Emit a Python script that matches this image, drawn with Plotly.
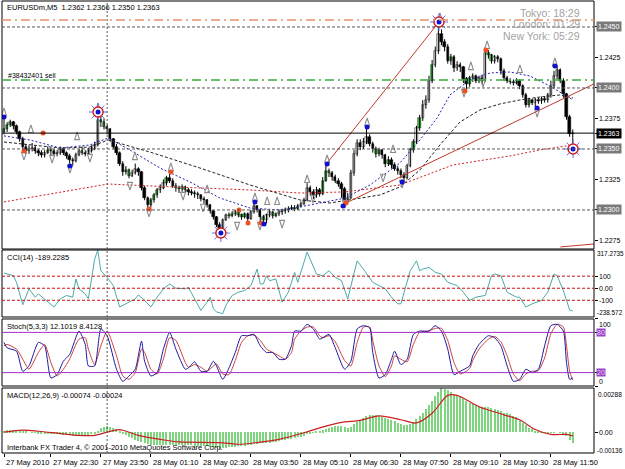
import plotly.graph_objects as go

# ---------------- data (prices in pips above 1.2300) ----------------
bar_open = [64,66,70,72,69,64,58,52,48,50, 51,48,47,45,47,49,48,46,47,50, 47,44,41,40,45,48,47,46,48,50,
            53,74,72,68,66,58,52,47,38,31, 33,28,30,34,31,18,10,4,8,12, 16,18,22,26,24,20,18,17,19,16,
            15,14,13,12,9,8,4,-1,-6,-12, -15,-8,-4,-5,-3,-2,-4,-6,-3,-7, -2,3,0,-6,-8,-4,-2,-5,-3,-2,
            -1,0,1,2,1,3,5,8,18,15, 12,16,13,24,32,30,27,24,21,17, 8,10,30,46,55,52,56,60,54,50,
            46,49,45,38,41,37,34,32,29,26, 36,49,56,67,75,86,90,106,119,130, 144,138,134,122,125,116,119,117,107,103,
            108,110,106,108,106,129,127,122,125,124, 114,108,106,105,104,106,102,94,86,90, 88,90,89,91,90,94,102,110,115,106,
            95,76,62]
bar_close = [66,70,72,69,64,58,52,48,50,51, 48,47,45,47,49,48,46,47,50,47, 44,41,40,45,48,47,46,48,50,53,
             74,72,68,66,58,52,47,38,31,33, 28,30,34,31,18,10,4,8,12,16, 18,22,26,24,20,18,17,19,16,15,
             14,13,12,9,8,4,-1,-6,-12,-15, -8,-4,-5,-3,-2,-4,-6,-3,-7,-2, 3,0,-6,-8,-4,-2,-5,-3,-2,-1,
             0,1,2,1,3,5,8,18,15,12, 16,13,24,32,30,27,24,21,17,8, 10,30,46,55,52,56,60,54,50,46,
             49,45,38,41,37,34,32,29,26,36, 49,56,67,75,86,90,106,119,130,144, 138,134,122,125,116,119,117,107,103,108,
             110,106,108,106,129,127,122,125,124,114, 108,106,105,104,106,102,94,86,90,88, 90,89,91,90,94,102,110,115,106,95,
             76,62,63]
bar_high = [76,72,74,73,70,65,60,54,53,55, 53,50,49,49,52,51,50,49,52,51, 48,46,43,47,50,52,49,51,53,56,
            79,78,75,70,67,59,54,48,40,36, 34,33,38,35,32,20,11,10,14,18, 21,25,28,32,26,22,20,21,20,18,
            17,16,15,13,11,9,5,0,-5,-10, -7,-3,-2,-1,0,-1,-3,-2,-2,0, 7,4,1,-4,-3,0,-1,-2,0,1,
            2,3,4,4,5,7,10,22,20,17, 19,18,27,38,34,32,29,26,23,19, 14,33,49,58,58,59,68,62,56,52,
            51,50,46,44,43,39,36,34,31,38, 51,58,69,78,90,94,110,123,134,154, 148,140,136,128,127,122,121,118,109,110,
            112,111,110,111,133,131,128,127,127,125, 116,110,108,107,108,107,103,96,92,91, 92,92,93,93,96,106,114,118,116,108,
            96,78,66]
bar_low = [62,64,68,66,62,56,49,46,46,48, 46,44,43,43,46,45,44,44,45,45, 42,38,36,39,44,45,44,45,47,49,
           52,68,66,62,56,50,45,36,28,29, 26,27,29,28,16,8,1,2,6,10, 14,17,20,22,18,15,14,15,14,12,
           12,10,9,7,5,2,-3,-8,-14,-19, -17,-9,-7,-6,-5,-6,-8,-7,-10,-8, -3,-2,-12,-12,-11,-6,-7,-6,-5,-4,
           -3,-2,0,-1,0,2,4,7,12,9, 10,11,12,23,27,24,22,19,10,4, 5,9,28,44,49,50,54,52,47,43,
           44,42,35,36,34,32,29,26,23,25, 35,47,54,65,73,83,88,104,117,128, 135,130,120,119,113,114,113,104,98,101,
           105,104,104,103,105,124,120,120,121,111, 106,104,103,102,103,99,92,84,84,86, 84,87,87,88,88,92,100,107,104,92,
           74,60,50]
green_bars = [0,1,2,14,15,17,25,31,32,39,40,47,48,49,52,55,56,58,61,72,73,75,76,77,83,86,87,89,90,93,94,
              102,103,104,119,120,123,131,133,137,143,149,155,156,162,163,168]

date_bars = [0,15,31,47,63,79,95,111,127,143,159,175]
date_text = ["27 May 2010","27 May 22:30","27 May 23:50","28 May 01:10","28 May 02:30","28 May 03:50",
             "28 May 05:10","28 May 06:30","28 May 07:50","28 May 09:10","28 May 10:30","28 May 11:50"]
day_sep_bar = 33

# moving averages (bar index, pips)
ma_fast_x = [0,8.3,17.9,27.5,33.3,40.3,49.9,59.5,69.1,78.7,88.3,94.7,101.1,109.1,117.1,126.7,133.1,138.6,142.7,149.1,155.5,161.9,168.3,174.7,182.1]
ma_fast_y = [60.7,57.4,50.8,53.3,59,49.2,34.4,23,9.8,1.6,0,2.5,5.7,9.8,20.5,38.5,57.4,75.4,94.3,106.6,112.3,113.1,109.8,101.6,90.2]
ma_mid_x = [0,18,27.5,33.3,46.7,62.7,78.7,94.7,104.3,110.7,120.3,126.7,133.1,139.5,145.9,152.3,158.7,165.1,171.5,177.9,182.1]
ma_mid_y = [55.7,50.8,51.6,57.4,47.5,34.4,20.5,8.2,5.7,8.2,12.3,18.9,32.8,53.3,72.1,82,86.9,90.2,92.6,94.3,91.8]
ma_slow_x = [0,33.3,46.7,62.7,78.7,94.7,109.1,126.7,143.7,161.9,171.5,182.1]
ma_slow_y = [6.6,21.3,19.7,18,16.4,13.9,14.8,20.5,36.9,44.3,49.2,53.3]

# trend lines
trend1_x = [103.4,139.2]; trend1_y = [38.5,154.1]
trend2_x = [109.4,188.8]; trend2_y = [5.7,103.3]
trend3_x = [178,188.8];   trend3_y = [-30.3,-27.9]

# fractal arrows
up_x = [0,8.6,23.4,30.1,41.9,53.4,65,80.3,84.2,87.4,97,103.4,116.2,124.5,139.5,149.4,154.6,165.1,176.3]
up_y = [83.6,69.7,63.9,87.7,47.5,38.5,20.5,13.9,10.7,10.7,28.7,45.1,75.4,53.3,161.5,121.3,138.5,118.9,124.6]
dn_x = [6.4,15.4,21.1,27.5,40.3,46.4,57.3,63.7,69.4,74.6,81.9,89,98.9,109.1,121.3,127.4,147.2,153.3,170.6]
dn_y = [41,38.5,30.3,39.3,16.4,-5.7,8.2,-1.6,-23,-16.4,-16.4,-14.8,5.7,1.6,23,18,92.6,100.8,76.2]
org_x = [6.4,12.5,46.4,53.4,75.2,78.1,82.2,109.4,147.5,154.2]
org_y = [48.4,63.1,0.8,31.1,0,-10.7,-10.7,5.7,97.5,131.1]
blu_x = [0,21.1,30.1,69.4,80.3,83.2,103.4,108.5,116.2,127.4,139.2,170.6,176.3,182.1]
blu_y = [76.2,36.1,80.3,-18.9,6.6,-11.5,37.7,3.3,68,23,154.1,83.6,118,50]
ring_x = [30.1,69.4,139.2,182.1]
ring_y = [80.3,-18.9,154.1,50]

level_round = [1.2450,1.2400,1.2350,1.2300]
level_plain = [1.2425,1.2375,1.2325,1.2275]
bid = 1.2363
tp_level = 1.24557
order_level = 1.24066

# CCI
cci_x = [0,3,4,6,8,10,11,13,15,16,18,20,22,23,24,26,27,29,30,31,33,35,37,40,42,43,45,47,49,51,53,55,58,59,61,
         63,65,66,67,68,70,71,73,75,77,79,81,82,83,84,85,87,89,91,93,94,97,98,100,102,104,106,108,110,113,
         115,118,120,122,124,126,127,130,132,133,134,136,138,140,142,145,147,149,151,154,156,157,159,161,164,
         165,167,169,172,174,176,177,179,180,181,182]
cci_y = [126,104,49,-137,-5,-74,-47,-88,-129,-156,-88,-60,-74,77,-5,-47,-88,241,317,145,90,22,-156,-115,-88,
         -55,-101,-156,-74,-5,36,0,-5,8,-88,-184,-115,-74,-170,-197,-211,-142,-60,-33,-19,22,159,36,36,104,
         63,77,-115,-33,132,49,300,241,118,104,145,90,63,-88,227,159,49,22,-5,-74,-129,-129,145,227,145,
         159,173,132,118,49,22,-33,-101,-74,-60,104,118,104,-33,-74,-74,-156,-129,-101,-33,118,104,-20,-100,-180,-189.23]

# Stochastic
st_x = [0,1,4,6,8,11,13,15,17,19,21,24,26,27,29,31,33,36,38,40,42,44,45,47,49,51,53,55,58,59,61,63,65,67,68,
        70,72,74,76,78,80,82,84,86,88,90,92,93,95,97,99,101,102,104,106,109,111,113,115,117,118,120,122,124,125,
        127,129,131,133,136,138,140,142,144,146,149,150,152,155,157,159,161,163,165,167,169,171,173,175,177,179,180,181,182]
st_k = [65,57,52,22,30,65,60,12,17,37,47,82,62,30,30,85,75,25,7,15,25,67,37,15,20,55,80,55,25,27,36,22,22,37,30,
        10,27,50,75,75,77,60,50,50,40,40,60,82,82,92,85,70,72,77,57,25,37,85,90,87,50,12,17,40,52,32,40,77,82,82,
        90,82,55,17,22,30,45,62,75,72,60,30,7,10,25,20,25,60,90,92,82,35,10,12.1]
st_d = [60,62,55,40,25,50,62,35,15,25,40,70,72,55,32,60,82,45,15,10,20,55,50,25,18,40,72,68,35,28,32,28,22,30,33,
        18,17,38,65,75,76,68,55,50,45,40,50,70,82,88,88,75,72,75,66,38,30,65,88,88,68,30,14,30,45,40,36,62,80,82,
        86,86,68,35,18,26,38,55,70,74,66,45,18,8,18,22,23,42,78,92,88,60,22,8.41]

# MACD (units of 0.00001)
macd_hist = [10,12,13,13,11,8,5,2,0,-2, -4,-6,-8,-9,-10,-12,-14,-15,-15,-16, -18,-20,-22,-21,-19,-18,-17,-16,-15,-12,
             10,25,33,37,35,28,18,5,-10,-20, -32,-40,-48,-55,-62,-70,-78,-82,-85,-86, -86,-85,-83,-82,-82,-83,-84,-84,-85,-86,
             -87,-88,-89,-90,-91,-93,-96,-100,-104,-108, -106,-103,-100,-97,-94,-92,-90,-88,-86,-83, -78,-75,-74,-73,-71,-68,-65,-62,-58,-54,
             -50,-46,-42,-38,-34,-30,-25,-15,-8,-3, 2,6,12,22,30,36,40,42,40,32, 26,34,50,66,80,92,104,110,112,110,
             106,100,92,85,78,70,62,55,48,46, 52,66,84,104,128,150,176,205,235,262, 288,284,272,262,250,238,228,215,200,190,
             182,175,168,163,166,165,160,150,142,135, 128,122,116,108,96,80,62,44,30,18, 8,2,-2,-4,-5,-4,-2,0,-4,-12,
             -28,-52,-74]
sig_x = [0,6,11,18,24,29,33,37,43,50,56,69,75,81,88,96,101,108,114,120,127,132,137,142,145,152,160,165,170,175,180,182]
sig_y = [0,13,6,-9,-21,-21,0,17,-21,-47,-64,-68,-79,-68,-47,-4,28,64,77,106,81,60,123,240,240,166,113,81,17,-15,-15,-24]

# ---------------- figure ----------------
def pr(p):
    return 1.23 + p / 10000.0

n = len(bar_close)
idx = list(range(n))
FONT = "Liberation Sans"

fig = go.Figure()

# wicks
wx, wy = [], []
for i in idx:
    wx += [i, i, None]
    wy += [pr(bar_low[i]), pr(bar_high[i]), None]
fig.add_trace(go.Scatter(x=wx, y=wy, mode="lines", line=dict(color="black", width=1),
                         hoverinfo="skip", xaxis="x", yaxis="y"))

# bodies
gset = set(green_bars)
base, hgt, col = [], [], []
for i in idx:
    o, c = bar_open[i], bar_close[i]
    base.append(pr(min(o, c)))
    hgt.append(max(abs(c - o), 0.5) / 10000.0)
    if i in gset:
        col.append("#33DD33")
    elif c > o:
        col.append("white")
    else:
        col.append("black")
fig.add_trace(go.Bar(x=idx, y=hgt, base=base, width=0.75, marker=dict(color=col, line=dict(color="black", width=0.5)),
                     xaxis="x", yaxis="y", hoverinfo="skip"))

# moving averages
fig.add_trace(go.Scatter(x=ma_slow_x, y=[pr(v) for v in ma_slow_y], mode="lines",
                         line=dict(color="#CC2222", width=1, dash="2px,2px"), xaxis="x", yaxis="y"))
fig.add_trace(go.Scatter(x=ma_mid_x, y=[pr(v) for v in ma_mid_y], mode="lines",
                         line=dict(color="#222222", width=1, dash="3px,2px"), xaxis="x", yaxis="y"))
fig.add_trace(go.Scatter(x=ma_fast_x, y=[pr(v) for v in ma_fast_y], mode="lines",
                         line=dict(color="#2222AA", width=1, dash="2px,2px"), xaxis="x", yaxis="y"))

# trend lines
for tx, ty in [(trend1_x, trend1_y), (trend2_x, trend2_y), (trend3_x, trend3_y)]:
    fig.add_trace(go.Scatter(x=tx, y=[pr(v) for v in ty], mode="lines",
                             line=dict(color="#C03A2B", width=1), xaxis="x", yaxis="y"))

# fractal arrows
fig.add_trace(go.Scatter(x=up_x, y=[pr(v) for v in up_y], mode="markers",
                         marker=dict(symbol="arrow-open", size=8, color="#8C8C8C", line=dict(width=1.1, color="#8C8C8C")),
                         xaxis="x", yaxis="y"))
fig.add_trace(go.Scatter(x=dn_x, y=[pr(v) for v in dn_y], mode="markers",
                         marker=dict(symbol="arrow-open", angle=180, size=8, color="#8C8C8C", line=dict(width=1.1, color="#8C8C8C")),
                         xaxis="x", yaxis="y"))
# rings
fig.add_trace(go.Scatter(x=ring_x, y=[pr(v) for v in ring_y], mode="markers",
                         marker=dict(symbol="asterisk-open", size=15, line=dict(width=1, color="#E05050")),
                         xaxis="x", yaxis="y"))
fig.add_trace(go.Scatter(x=ring_x, y=[pr(v) for v in ring_y], mode="markers",
                         marker=dict(symbol="circle", size=10, color="white", line=dict(width=1.5, color="#D02020")),
                         xaxis="x", yaxis="y"))
# dots
fig.add_trace(go.Scatter(x=org_x, y=[pr(v) for v in org_y], mode="markers",
                         marker=dict(symbol="circle", size=5, color="#F05020"), xaxis="x", yaxis="y"))
fig.add_trace(go.Scatter(x=blu_x, y=[pr(v) for v in blu_y], mode="markers",
                         marker=dict(symbol="circle", size=5, color="#1010D0"), xaxis="x", yaxis="y"))

# CCI
fig.add_trace(go.Scatter(x=cci_x, y=cci_y, mode="lines", line=dict(color="#4AAAAA", width=1), xaxis="x", yaxis="y2"))
# Stochastic
fig.add_trace(go.Scatter(x=st_x, y=st_d, mode="lines", line=dict(color="#D04040", width=1, shape="spline", smoothing=0.6),
                         xaxis="x", yaxis="y3"))
fig.add_trace(go.Scatter(x=st_x, y=st_k, mode="lines", line=dict(color="#1A1AA0", width=1, shape="spline", smoothing=0.6),
                         xaxis="x", yaxis="y3"))
# MACD
fig.add_trace(go.Bar(x=idx, y=[v / 100000.0 for v in macd_hist], width=0.4, marker=dict(color="#7FD47F", line=dict(width=0)),
                     xaxis="x", yaxis="y4"))
fig.add_trace(go.Scatter(x=sig_x, y=[v / 100000.0 for v in sig_y], mode="lines",
                         line=dict(color="#C82020", width=1.2, shape="spline", smoothing=0.8), xaxis="x", yaxis="y4"))

# ---------------- layout ----------------
doms = {"y": [0.4513, 1.0], "y2": [0.3009, 0.4491], "y3": [0.1482, 0.2965], "y4": [0.0, 0.1438]}

def yax(dom, rng, tv):
    return dict(domain=dom, range=rng, showgrid=False, zeroline=False, showticklabels=False, side="right",
                ticks="outside", ticklen=3, tickcolor="black", tickvals=tv, anchor="x", fixedrange=True)

shapes = []
for yr in ["y", "y2", "y3", "y4"]:
    shapes.append(dict(type="rect", xref="paper", yref=yr + " domain", x0=0, x1=1, y0=0, y1=1,
                       line=dict(color="black", width=1)))
for lv in level_round:
    shapes.append(dict(type="line", xref="paper", yref="y", x0=0, x1=1, y0=lv, y1=lv,
                       line=dict(color="#555555", width=1, dash="3px,2px")))
shapes.append(dict(type="line", xref="paper", yref="y", x0=0, x1=1, y0=tp_level, y1=tp_level,
                   line=dict(color="#E8926C", width=1.5, dash="9px,4px,2px,4px")))
shapes.append(dict(type="line", xref="paper", yref="y", x0=0, x1=1, y0=order_level, y1=order_level,
                   line=dict(color="#3DAA3D", width=1.5, dash="9px,4px,2px,4px")))
shapes.append(dict(type="line", xref="paper", yref="y", x0=0, x1=1, y0=bid, y1=bid,
                   line=dict(color="black", width=1)))
for lv in [100, 0, -100]:
    shapes.append(dict(type="line", xref="paper", yref="y2", x0=0, x1=1, y0=lv, y1=lv,
                       line=dict(color="#CC1111", width=1, dash="3px,2px")))
for lv in [80, 20]:
    shapes.append(dict(type="line", xref="paper", yref="y3", x0=0, x1=1, y0=lv, y1=lv,
                       line=dict(color="#A030C8", width=1)))
shapes.append(dict(type="line", xref="x", yref="paper", x0=day_sep_bar, x1=day_sep_bar, y0=0, y1=1,
                   line=dict(color="#555555", width=1, dash="2px,2px")))

def pyf(ypix):
    return (453 - ypix) / 452.0

ann = []
def txt(x, y, s, size=7.5, color="black", xanchor="left", xref="paper", yref="paper", bg=None, xshift=0):
    d = dict(x=x, y=y, xref=xref, yref=yref, text=s, showarrow=False, xanchor=xanchor, yanchor="middle",
             font=dict(family=FONT, size=size, color=color), borderpad=1, xshift=xshift)
    if bg:
        d["bgcolor"] = bg
    ann.append(d)

# titles
txt(0.005, pyf(8), "EURUSDm,M5  1.2362 1.2366 1.2350 1.2363")
txt(0.006, pyf(75), "#38432401 sell", size=7)
txt(0.005, pyf(257), "CCI(14) -189.2285")
txt(0.005, pyf(326), "Stoch(5,3,3) 12.1019 8.4128")
txt(0.005, pyf(395), "MACD(12,26,9) -0.00074 -0.00024")
txt(0.005, pyf(447), "Interbank FX Trader 4, \u00a9 2001-2010 MetaQuotes Software Corp.")
# sessions
for yy, s in [(13, "Tokyo: 18:29"), (24, "London: 01:29"), (36, "New York: 05:29")]:
    txt(0.98, pyf(yy), s, size=10.5, color="#A3A3A3", xanchor="right")

RS = 7  # right scale font size
# right price scale
for lv in level_round:
    ann.append(dict(x=1, y=lv, xref="paper", yref="y", text="%.4f" % lv, showarrow=False, xanchor="left",
                    xshift=2, font=dict(family=FONT, size=RS, color="white"), bgcolor="#7A7A7A", borderpad=1))
for lv in level_plain:
    ann.append(dict(x=1, y=lv, xref="paper", yref="y", text="%.4f" % lv, showarrow=False, xanchor="left",
                    xshift=3, font=dict(family=FONT, size=RS, color="black")))
ann.append(dict(x=1, y=bid, xref="paper", yref="y", text="%.4f" % bid, showarrow=False, xanchor="left",
                xshift=2, font=dict(family=FONT, size=RS, color="white"), bgcolor="black", borderpad=1))
# CCI scale
txt(1, pyf(253), "317.2735", size=6.4, xshift=1)
for lv, s in [(100, "100"), (0, "0.00"), (-100, "-100")]:
    ann.append(dict(x=1, y=lv, xref="paper", yref="y2", text=s, showarrow=False, xanchor="left", xshift=3,
                    font=dict(family=FONT, size=RS, color="black")))
txt(1, pyf(312), "-238.572", size=6.4, xshift=1)
# Stoch scale
txt(1, pyf(324), "100", size=RS, xshift=3)
txt(1, pyf(381), "0", size=RS, xshift=3)
for lv in [80, 20]:
    ann.append(dict(x=1, y=lv, xref="paper", yref="y3", text=str(lv), showarrow=False, xanchor="left", xshift=2,
                    font=dict(family=FONT, size=RS, color="#E8D8F0"), bgcolor="#9A3FC8", borderpad=0))
# MACD scale
txt(1, pyf(394), "0.00288", size=6.6, xshift=2)
ann.append(dict(x=1, y=0, xref="paper", yref="y4", text="0.00", showarrow=False, xanchor="left", xshift=3,
                font=dict(family=FONT, size=RS, color="black")))
txt(1, pyf(450), "-0.00136", size=6.4, xshift=1)
# dates
for b, s in zip(date_bars, date_text):
    ann.append(dict(x=b, y=pyf(463), xref="x", yref="paper", text=s, showarrow=False, xanchor="left", xshift=0,
                    yanchor="middle", font=dict(family=FONT, size=7.5, color="black")))

fig.update_layout(
    width=625, height=469, margin=dict(l=2, r=31, t=1, b=16),
    paper_bgcolor="white", plot_bgcolor="white", showlegend=False, barmode="overlay", bargap=0,
    font=dict(family=FONT, size=7.5, color="black"),
    xaxis=dict(domain=[0, 1], range=[-0.64, 188.8], anchor="y4", showgrid=False, zeroline=False,
               showticklabels=False, ticks="outside", ticklen=3, tickcolor="black", tickvals=date_bars, fixedrange=True),
    yaxis=yax(doms["y"], [1.22680, 1.24713], level_round + level_plain + [bid]),
    yaxis2=yax(doms["y2"], [-238.572, 317.2735], [100, 0, -100]),
    yaxis3=yax(doms["y3"], [0, 100], [100, 80, 20, 0]),
    yaxis4=yax(doms["y4"], [-0.00136, 0.00288], [0]),
    shapes=shapes, annotations=ann,
)

fig.write_html("out.html")
